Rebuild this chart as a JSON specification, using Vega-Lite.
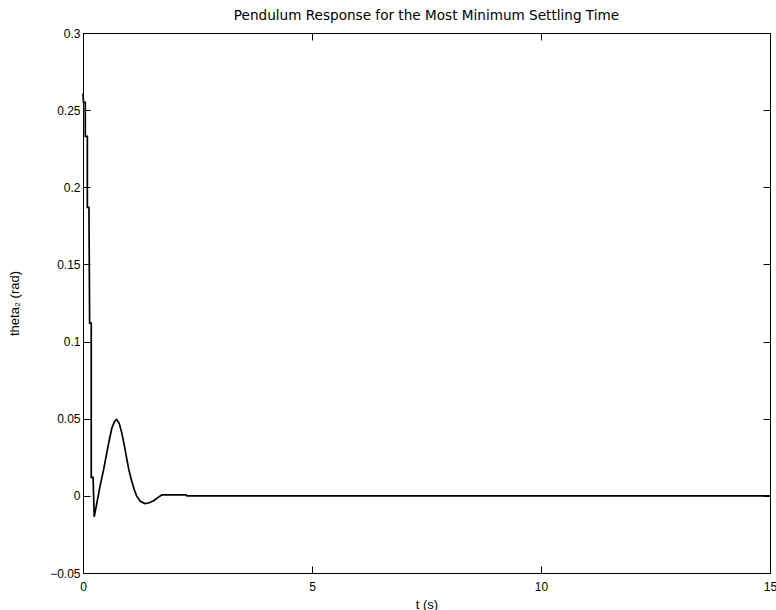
{
  "$schema": "https://vega.github.io/schema/vega-lite/v6.json",
  "width": 687,
  "height": 540,
  "autosize": {"type": "none"},
  "padding": {"left": 83, "top": 33, "right": 6, "bottom": 37},
  "background": "white",
  "title": {"text": "Pendulum Response for the Most Minimum Settling Time", "font": "DejaVu Sans", "fontSize": 13.6, "fontWeight": "normal", "color": "black", "anchor": "middle", "offset": 4},
  "config": {
    "view": {"stroke": "black", "strokeWidth": 1},
    "axis": {
      "grid": false,
      "domainColor": "black",
      "domainWidth": 1,
      "tickColor": "black",
      "tickWidth": 1,
      "tickSize": -7,
      "labelFont": "Liberation Sans",
      "labelFontSize": 12,
      "labelColor": "black",
      "titleFont": "Liberation Sans",
      "titleFontSize": 13,
      "titleFontWeight": "normal",
      "titleColor": "black"
    }
  },
  "data": {"values": [
    {"i": 0, "t": 0.0, "theta": 0.261},
    {"i": 1, "t": 0.01, "theta": 0.255},
    {"i": 2, "t": 0.05, "theta": 0.255},
    {"i": 3, "t": 0.05, "theta": 0.233},
    {"i": 4, "t": 0.095, "theta": 0.233},
    {"i": 5, "t": 0.095, "theta": 0.187},
    {"i": 6, "t": 0.13, "theta": 0.187},
    {"i": 7, "t": 0.145, "theta": 0.112},
    {"i": 8, "t": 0.18, "theta": 0.112},
    {"i": 9, "t": 0.18, "theta": 0.012},
    {"i": 10, "t": 0.22, "theta": 0.012},
    {"i": 11, "t": 0.245, "theta": -0.0136},
    {"i": 12, "t": 0.3, "theta": -0.005},
    {"i": 13, "t": 0.37, "theta": 0.006},
    {"i": 14, "t": 0.45, "theta": 0.017},
    {"i": 15, "t": 0.52, "theta": 0.028},
    {"i": 16, "t": 0.58, "theta": 0.037},
    {"i": 17, "t": 0.63, "theta": 0.044},
    {"i": 18, "t": 0.69, "theta": 0.0483},
    {"i": 19, "t": 0.736, "theta": 0.0495},
    {"i": 20, "t": 0.79, "theta": 0.047},
    {"i": 21, "t": 0.845, "theta": 0.041},
    {"i": 22, "t": 0.9, "theta": 0.033},
    {"i": 23, "t": 0.95, "theta": 0.025},
    {"i": 24, "t": 1.0, "theta": 0.017},
    {"i": 25, "t": 1.06, "theta": 0.01},
    {"i": 26, "t": 1.12, "theta": 0.004},
    {"i": 27, "t": 1.17, "theta": 0.0},
    {"i": 28, "t": 1.25, "theta": -0.0035},
    {"i": 29, "t": 1.35, "theta": -0.005},
    {"i": 30, "t": 1.45, "theta": -0.0045},
    {"i": 31, "t": 1.55, "theta": -0.003},
    {"i": 32, "t": 1.64, "theta": -0.001},
    {"i": 33, "t": 1.72, "theta": 0.0006},
    {"i": 34, "t": 2.25, "theta": 0.0006},
    {"i": 35, "t": 2.27, "theta": 0.0},
    {"i": 36, "t": 15, "theta": 0.0}
  ]},
  "layer": [
    {
      "mark": {"type": "line", "color": "black", "strokeWidth": 1.7},
      "encoding": {
        "x": {"field": "t", "type": "quantitative", "scale": {"domain": [0, 15], "nice": false, "zero": false},
              "axis": {"orient": "bottom", "values": [0, 5, 10, 15], "title": "t (s)", "labelPadding": 15, "titlePadding": 6, "labelFlush": false}},
        "y": {"field": "theta", "type": "quantitative", "scale": {"domain": [-0.05, 0.3], "nice": false, "zero": false},
              "axis": {"orient": "left", "values": [-0.05, 0, 0.05, 0.1, 0.15, 0.2, 0.25, 0.3], "format": "~g", "title": "theta₂ (rad)", "labelPadding": 10, "titlePadding": 28, "labelFlush": false}},
        "order": {"field": "i", "type": "quantitative"}
      }
    },
    {
      "mark": {"type": "line", "opacity": 0},
      "encoding": {
        "x": {"field": "t", "type": "quantitative",
              "axis": {"orient": "top", "values": [0, 5, 10, 15], "labels": false, "title": null}},
        "y": {"field": "theta", "type": "quantitative",
              "axis": {"orient": "right", "values": [-0.05, 0, 0.05, 0.1, 0.15, 0.2, 0.25, 0.3], "labels": false, "title": null}},
        "order": {"field": "i", "type": "quantitative"}
      }
    }
  ],
  "resolve": {"axis": {"x": "independent", "y": "independent"}}
}
